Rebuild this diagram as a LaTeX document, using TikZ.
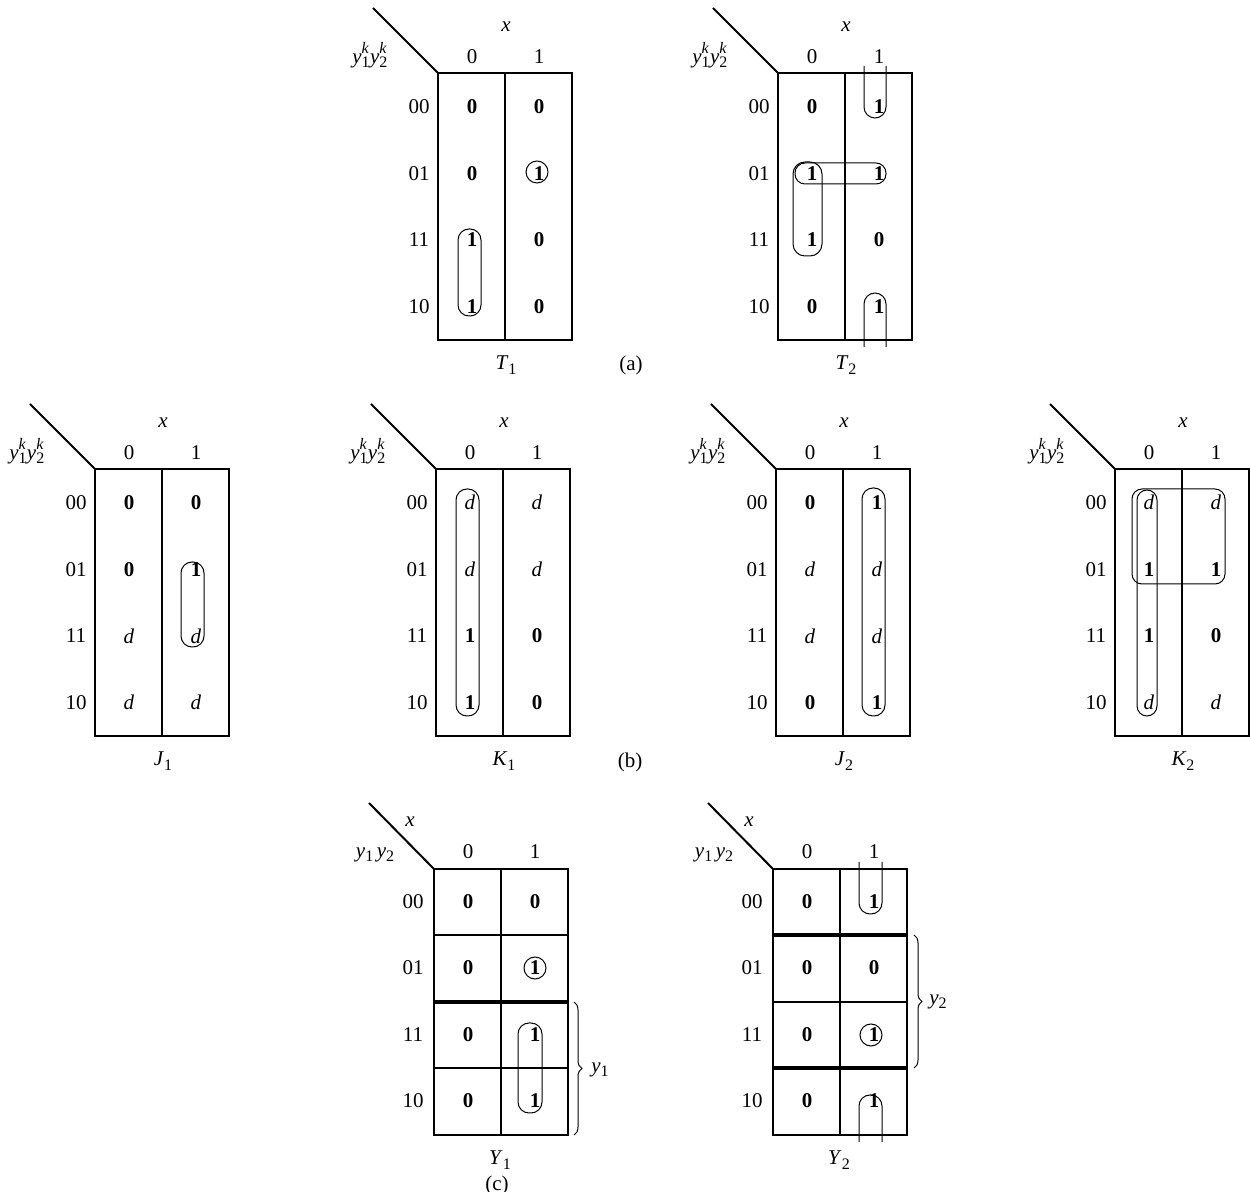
\documentclass[tikz,border=0pt]{standalone}
\usepackage{fontspec}
\setmainfont{Liberation Serif}
\usetikzlibrary{decorations.pathreplacing}
\newcommand{\sbx}[1]{\raisebox{-0.45ex}{\footnotesize #1}}
\newcommand{\ykk}[1]{\textit{y}\rlap{\sbx{#1}}\raisebox{1.0ex}{\footnotesize\textit{k}}\kern0.5pt}
\newcommand{\Zc}{\textbf{0}}
\newcommand{\Oc}{\textbf{1}}
\newcommand{\Dc}{\textit{d}}
\tikzset{
  frame/.style={line width=1pt},
  thickline/.style={line width=1.6pt},
  ring/.style={line width=0.5pt},
  every node/.style={inner sep=0pt, font=\fontsize{10.5}{12}\selectfont},
}
% type A map: name, left, top, col0 list, col1 list, bottom label
\newcommand{\kmapA}[6]{%
  \begin{scope}[shift={(#2,#3)}]
    \coordinate (#1-tl) at (0,0);
    \coordinate (#1-br) at (134,267);
    \coordinate (#1-tm) at (67,0);
    \coordinate (#1-bm) at (67,267);
    \coordinate (#1-d) at (-65,-65);
    \draw[frame] (#1-tl) rectangle (#1-br);
    \draw[frame] (#1-tm) -- (#1-bm);
    \draw[frame] (#1-d) -- (#1-tl);
    \foreach \rl [count=\i] in {00,01,11,10}
      \node (#1-r\i) at (-19,{33.4+66.75*(\i-1)}) {\rl};
    \node (#1-h0) at (34,-16) {0};
    \node (#1-h1) at (101,-16) {1};
    \node (#1-x) at (68,-46) {\textit{x}};
    \node (#1-y) at (-68,-18) {\ykk{1}\ykk{2}};
    \foreach \v [count=\i] in {#4}
      \node (#1-a\i) at (34,{33.4+66.75*(\i-1)}) {\v};
    \foreach \v [count=\i] in {#5}
      \node (#1-b\i) at (101,{33.4+66.75*(\i-1)}) {\v};
    \node (#1-lab) at (68,292) {#6};
  \end{scope}}
% type C map: name, left, top, col0 list, col1 list, bottom label
\newcommand{\kmapC}[6]{%
  \begin{scope}[shift={(#2,#3)}]
    \coordinate (#1-tl) at (0,0);
    \coordinate (#1-br) at (134,266);
    \coordinate (#1-tm) at (67,0);
    \coordinate (#1-bm) at (67,266);
    \coordinate (#1-d) at (-65,-66);
    \draw[frame] (#1-tl) rectangle (#1-br);
    \draw[frame] (#1-tm) -- (#1-bm);
    \draw[frame] (#1-d) -- (#1-tl);
    \foreach \rl [count=\i] in {00,01,11,10}
      \node (#1-r\i) at (-21,{32.5+66.5*(\i-1)}) {\rl};
    \node (#1-h0) at (34,-17) {0};
    \node (#1-h1) at (101,-17) {1};
    \node (#1-x) at (-24,-47) {\textit{x}};
    \node (#1-y) at (-59,-14) {\textit{y}\sbx{1}\,\textit{y}\sbx{2}};
    \foreach \v [count=\i] in {#4}
      \node (#1-a\i) at (34,{32.5+66.5*(\i-1)}) {\v};
    \foreach \v [count=\i] in {#5}
      \node (#1-b\i) at (101,{32.5+66.5*(\i-1)}) {\v};
    \node (#1-lab) at (66,291) {#6};
  \end{scope}}
\begin{document}
\begin{tikzpicture}[x=0.5pt,y=-0.5pt]
  \useasboundingbox (0,0) rectangle (1250,1192);
  % ---- (a)
  \kmapA{TA}{438}{73}{\Zc,\Zc,\Oc,\Oc}{\Zc,\Oc,\Zc,\Zc}{\textit{T}\sbx{1}}
  \kmapA{TB}{778}{73}{\Zc,\Oc,\Oc,\Zc}{\Oc,\Oc,\Zc,\Oc}{\textit{T}\sbx{2}}
  \node (la) at (631,365) {(a)};
  \draw[ring, rounded corners=5.5pt] (458,229) rectangle (481,316);
  \draw[ring] (537,172) circle [radius=5.5pt];
  \draw[ring, rounded corners=5.5pt] (864,66) -- (864,118) -- (886,118) -- (886,66);
  \draw[ring, rounded corners=5.5pt] (864,347) -- (864,293) -- (886,293) -- (886,347);
  \draw[ring, rounded corners=5pt] (795,163) rectangle (886,184);
  \draw[ring, rounded corners=6pt] (793,162) rectangle (822,256);
  % ---- (b)
  \kmapA{JA}{95}{469}{\Zc,\Zc,\Dc,\Dc}{\Zc,\Oc,\Dc,\Dc}{\textit{J}\sbx{1}}
  \kmapA{KA}{436}{469}{\Dc,\Dc,\Oc,\Oc}{\Dc,\Dc,\Zc,\Zc}{\textit{K}\sbx{1}}
  \kmapA{JB}{776}{469}{\Zc,\Dc,\Dc,\Zc}{\Oc,\Dc,\Dc,\Oc}{\textit{J}\sbx{2}}
  \kmapA{KB}{1115}{469}{\Dc,\Oc,\Oc,\Dc}{\Dc,\Oc,\Zc,\Dc}{\textit{K}\sbx{2}}
  \node (lb) at (630,762) {(b)};
  \draw[ring, rounded corners=5.5pt] (181,562) rectangle (204,647);
  \draw[ring, rounded corners=5.5pt] (456,489) rectangle (479,716);
  \draw[ring, rounded corners=5.5pt] (862,488) rectangle (885,716);
  \draw[ring, rounded corners=5pt] (1132,489) rectangle (1225,584);
  \draw[ring, rounded corners=5pt] (1137,490) rectangle (1157,716);
  % ---- (c)
  \kmapC{YA}{434}{869}{\Zc,\Zc,\Zc,\Zc}{\Zc,\Oc,\Oc,\Oc}{\textit{Y}\sbx{1}}
  \kmapC{YB}{773}{869}{\Zc,\Zc,\Zc,\Zc}{\Oc,\Zc,\Oc,\Oc}{\textit{Y}\sbx{2}}
  \draw[frame] (434,935) -- (568,935);
  \draw[thickline] (434,1002) -- (568,1002);
  \draw[frame] (434,1068) -- (568,1068);
  \draw[thickline] (773,935) -- (907,935);
  \draw[frame] (773,1002) -- (907,1002);
  \draw[thickline] (773,1068) -- (907,1068);
  \draw[ring] (535,968) circle [radius=5.5pt];
  \draw[ring, rounded corners=5.5pt] (518,1023) rectangle (542,1113);
  \draw[ring, rounded corners=5.5pt] (859,862) -- (859,914) -- (882,914) -- (882,862);
  \draw[ring] (871,1035) circle [radius=5.5pt];
  \draw[ring, rounded corners=5.5pt] (859,1142) -- (859,1095) -- (882,1095) -- (882,1142);
  \coordinate (b1t) at (574,1002);
  \coordinate (b1b) at (574,1135);
  \draw[ring, decorate, decoration={brace, amplitude=4pt}] (b1t) -- (b1b);
  \node (y1l) at (600,1070) {\textit{y}\sbx{1}};
  \coordinate (b2t) at (914,935);
  \coordinate (b2b) at (914,1068);
  \draw[ring, decorate, decoration={brace, amplitude=4pt}] (b2t) -- (b2b);
  \node (y2l) at (938,1002) {\textit{y}\sbx{2}};
  \node (lc) at (497,1185) {(c)};
\end{tikzpicture}
\end{document}
